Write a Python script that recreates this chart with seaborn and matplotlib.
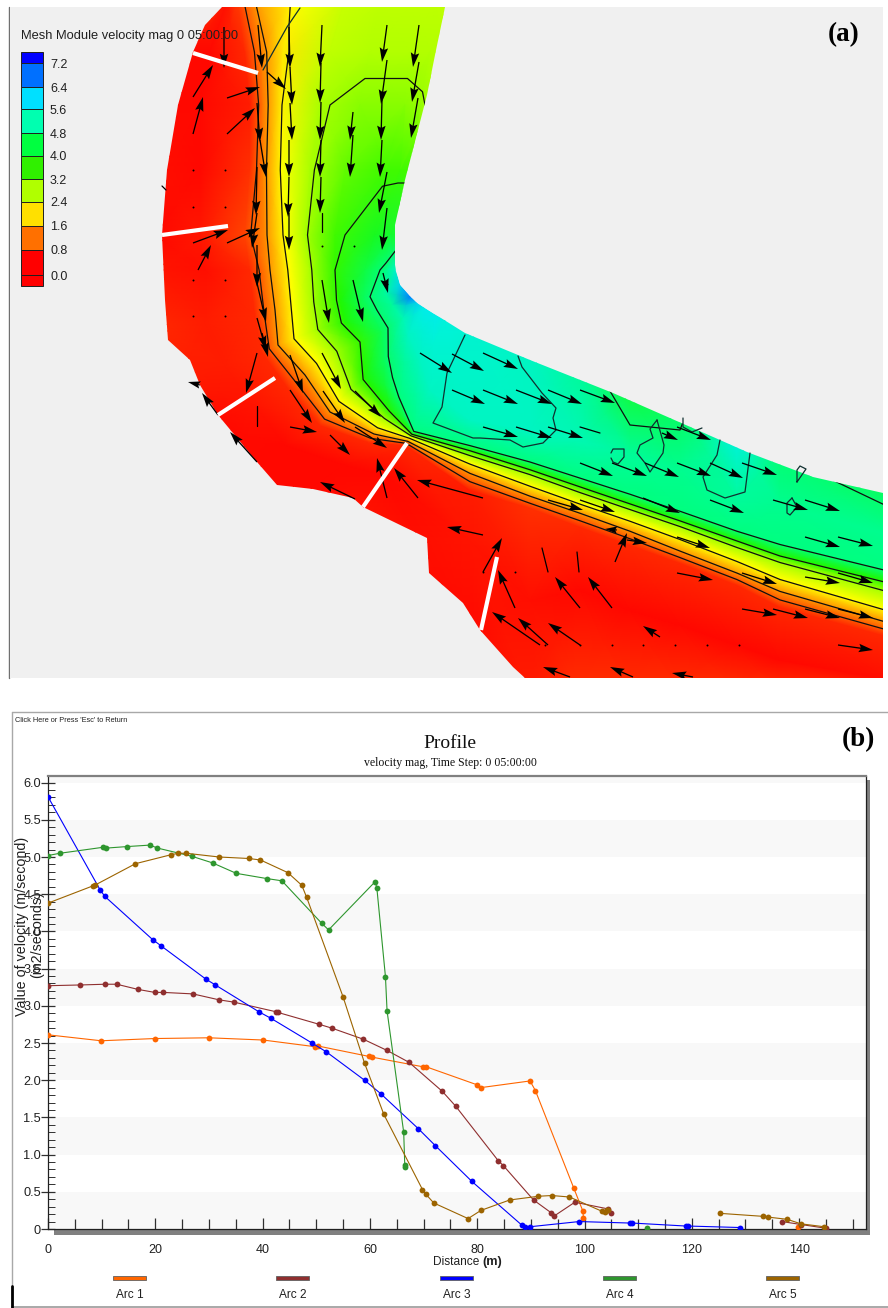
import numpy as np
import pandas as pd
import matplotlib
matplotlib.use('Agg')
import matplotlib.pyplot as plt
import seaborn as sns
from matplotlib.colors import LinearSegmentedColormap
from matplotlib.patches import Polygon, Rectangle

W, H = 888, 1308

# ---- panel (a) data in pixels ----
# each row is one cross section of the channel, outer bank to inner bank
sec_x = [
    [215, 228, 238, 255, 295, 345, 380, 415, 435, 450],
    [188, 210, 245, 262, 283, 330, 370, 410, 430, 440],
    [172, 200, 250, 263, 282, 320, 360, 405, 420, 430],
    [160, 200, 250, 263, 282, 310, 345, 385, 400, 410],
    [155, 200, 245, 265, 285, 305, 335, 375, 390, 398],
    [156, 205, 250, 270, 290, 310, 335, 365, 385, 395],
    [158, 205, 255, 275, 293, 312, 340, 365, 385, 400],
    [183, 225, 262, 278, 296, 316, 345, 372, 392, 410],
    [210, 255, 288, 305, 318, 335, 360, 382, 403, 417],
    [240, 285, 320, 330, 340, 350, 365, 385, 408, 424],
    [295, 345, 368, 374, 378, 384, 390, 400, 420, 435],
    [358, 385, 405, 408, 410, 411, 412, 414, 430, 445],
    [470, 470, 470, 470, 470, 470, 470, 470, 470, 470],
    [530, 530, 530, 530, 530, 530, 530, 530, 530, 530],
    [580, 580, 580, 580, 580, 580, 580, 580, 580, 580],
    [630, 630, 630, 630, 630, 630, 630, 630, 630, 630],
    [680, 680, 680, 680, 680, 680, 680, 680, 680, 680],
    [737, 737, 737, 737, 737, 737, 737, 737, 737, 737],
    [780, 780, 780, 780, 780, 780, 780, 780, 780, 780],
    [890, 890, 890, 890, 890, 890, 890, 890, 890, 890],
]
sec_y = [
    [0, 0, 0, 0, 0, 0, 0, 0, 0, 0],
    [52, 52, 52, 52, 52, 52, 52, 52, 52, 52],
    [105, 105, 105, 105, 105, 105, 105, 105, 105, 105],
    [170, 170, 170, 170, 170, 170, 170, 170, 170, 170],
    [235, 235, 235, 235, 235, 235, 235, 235, 235, 235],
    [270, 270, 270, 270, 270, 270, 270, 270, 270, 270],
    [325, 322, 315, 310, 305, 302, 300, 298, 293, 285],
    [375, 365, 352, 345, 338, 330, 322, 312, 305, 297],
    [425, 405, 388, 375, 362, 352, 342, 332, 318, 303],
    [465, 445, 425, 412, 400, 390, 378, 360, 335, 308],
    [500, 465, 442, 434, 427, 419, 410, 395, 360, 315],
    [515, 475, 445, 441, 438, 436, 434, 431, 390, 320],
    [640, 540, 490, 472, 463, 456, 450, 445, 420, 330],
    [690, 600, 508, 495, 485, 475, 469, 461, 430, 350],
    [690, 590, 527, 512, 503, 493, 486, 477, 440, 370],
    [690, 610, 545, 530, 520, 510, 503, 493, 455, 395],
    [690, 625, 563, 550, 538, 527, 520, 510, 470, 410],
    [690, 645, 585, 572, 560, 548, 540, 530, 500, 440],
    [690, 660, 607, 590, 578, 563, 555, 543, 505, 455],
    [690, 680, 637, 622, 610, 593, 582, 570, 535, 480],
]
sec_vel = [
    [.5, .2, .6, 1.5, 2.4, 2.9, 3.0, 3.0, 3.0, 3.0],
    [.1, .1, .4, 1.3, 2.2, 3.0, 3.1, 3.1, 3.1, 3.1],
    [.1, .1, .3, 1.2, 2.3, 3.2, 3.4, 3.4, 3.3, 3.2],
    [.15, .1, .5, 1.3, 2.4, 3.2, 3.6, 3.8, 3.8, 3.8],
    [.1, .25, .7, 1.4, 2.4, 3.2, 3.8, 4.2, 4.3, 4.3],
    [.2, .15, .4, 1.5, 2.4, 3.2, 3.9, 4.4, 4.8, 5.3],
    [.4, .3, .4, 1.5, 2.4, 3.2, 4.0, 4.6, 5.0, 5.8],
    [.3, .3, .4, 1.5, 2.4, 3.2, 4.0, 4.6, 5.0, 6.4],
    [.1, .2, .4, 1.5, 2.4, 3.2, 3.9, 4.5, 5.2, 5.8],
    [.1, .1, .4, 1.5, 2.4, 3.2, 4.0, 4.6, 5.3, 5.6],
    [.1, .1, .4, 1.5, 2.4, 3.2, 4.0, 4.8, 5.3, 5.6],
    [.2, .1, .4, 1.6, 2.4, 3.2, 4.0, 4.8, 5.3, 5.5],
    [.1, .2, .3, 1.6, 2.4, 3.2, 4.0, 4.8, 5.3, 5.4],
    [.3, .15, .5, 1.6, 2.4, 3.2, 4.0, 4.8, 5.3, 5.3],
    [.5, .1, .4, 1.6, 2.4, 3.2, 4.0, 4.8, 5.2, 5.0],
    [.5, .1, .4, 1.6, 2.4, 3.2, 4.0, 4.8, 5.0, 4.4],
    [.5, .1, .4, 1.6, 2.4, 3.2, 4.0, 4.8, 4.9, 4.6],
    [.5, .1, .4, 1.6, 2.4, 3.2, 4.0, 4.8, 5.0, 5.5],
    [.5, .1, .4, 1.6, 2.4, 3.2, 4.0, 4.8, 4.9, 4.7],
    [.5, .15, .4, 1.6, 2.4, 3.2, 4.0, 4.8, 4.9, 4.5],
]
# channel outline
bank_x = [222, 205, 193, 178, 167, 162, 165, 168, 190, 200, 218, 257, 277, 313, 353, 363,
          427, 429, 463, 480, 513, 525, 883, 883, 813, 747, 720, 613, 530, 465, 417, 400,
          395, 395, 405, 427, 435, 445]
bank_y = [7, 25, 52, 105, 170, 235, 300, 340, 360, 385, 415, 462, 485, 489, 498, 507,
          538, 573, 603, 630, 667, 678, 678, 493, 477, 452, 440, 393, 360, 333, 303, 285,
          265, 225, 180, 95, 55, 7]

# closed and open contour pieces in the fast water
loop_xs = [[611, 613, 624, 624, 618, 613, 611],
           [657, 650, 653, 640, 637, 645, 650, 663, 664, 657],
           [720, 717, 703, 707, 725, 745, 750],
           [518, 522, 542, 556, 553, 556, 543, 523, 510, 480, 473, 433, 442, 447, 465],
           [797, 797, 800, 806, 797],
           [792, 787, 787, 790, 797, 792],
           [683, 683, 692, 702],
           [300, 287, 263]]
loop_ys = [[453, 449, 449, 457, 464, 462, 458],
           [420, 429, 438, 445, 453, 463, 472, 453, 445, 420],
           [440, 455, 477, 490, 498, 492, 453],
           [356, 367, 393, 408, 418, 430, 443, 447, 440, 438, 438, 423, 407, 373, 335],
           [482, 470, 466, 469, 482],
           [498, 503, 513, 515, 507, 498],
           [418, 427, 432, 428],
           [8, 27, 70]]

# flow arrows, tail and tip
arrow_x0 = [193, 224, 258, 289, 322, 387, 419, 193, 227, 267, 290, 321, 387, 419, 227, 257, 290, 321, 353, 382, 418,
            260, 289, 321, 353, 382, 257, 289, 321, 387, 193, 227, 257, 289, 198, 387, 257, 322, 353, 257, 383, 257,
            262, 257, 322, 290, 355, 290, 323, 355, 290, 330, 218, 257, 355, 387, 418, 483, 483, 483, 515, 540,
            420, 452, 483, 452, 483, 516, 548, 580, 483, 516, 548, 662, 677, 580, 612, 645, 677, 710, 742,
            548, 580, 643, 710, 773, 805, 617, 677, 627, 615, 805, 838, 677, 742, 838, 805, 742, 773, 805, 838, 838,
            580, 612, 548, 580, 660, 570, 633, 693, 200]
arrow_y0 = [97, 27, 25, 27, 25, 25, 25, 134, 98, 72, 67, 63, 60, 62, 134, 103, 103, 102, 112, 100, 98,
            140, 140, 140, 135, 140, 167, 177, 177, 172, 243, 243, 213, 213, 270, 208, 245, 280, 280, 318, 273, 283,
            333, 353, 353, 355, 391, 390, 391, 427, 427, 435, 415, 462, 499, 498, 498, 498, 535, 572, 608, 645,
            353, 354, 353, 390, 390, 390, 390, 390, 427, 427, 427, 433, 427, 463, 463, 463, 463, 463, 463,
            500, 500, 498, 500, 500, 500, 530, 537, 540, 562, 537, 537, 573, 573, 573, 577, 609, 609, 609, 609, 645,
            608, 608, 645, 645, 637, 677, 677, 677, 385]
arrow_x1 = [213, 224, 262, 290, 320, 382, 413, 203, 260, 286, 292, 320, 381, 412, 255, 260, 292, 320, 350, 381, 411,
            266, 289, 320, 350, 380, 256, 288, 320, 379, 228, 260, 252, 289, 211, 382, 257, 329, 363, 266, 388, 266,
            268, 246, 341, 303, 381, 312, 345, 387, 317, 350, 202, 230, 320, 377, 394, 417, 447, 502, 498, 492,
            452, 484, 518, 485, 518, 552, 582, 615, 518, 552, 583, 678, 711, 613, 647, 679, 711, 743, 777,
            583, 615, 680, 744, 808, 840, 605, 710, 647, 627, 840, 873, 713, 777, 873, 840, 777, 808, 840, 873, 873,
            555, 588, 518, 548, 643, 543, 610, 672, 188]
arrow_y1 = [65, 68, 68, 68, 67, 62, 67, 97, 87, 89, 105, 103, 104, 102, 108, 142, 140, 140, 140, 140, 138,
            177, 177, 177, 177, 177, 215, 217, 213, 213, 230, 228, 248, 250, 245, 250, 287, 323, 322, 350, 293, 322,
            357, 393, 389, 393, 417, 423, 423, 448, 432, 455, 393, 432, 482, 458, 468, 480, 527, 538, 570, 612,
            373, 371, 369, 404, 404, 404, 404, 403, 437, 438, 438, 440, 440, 476, 476, 477, 476, 478, 475,
            510, 512, 513, 513, 510, 511, 529, 548, 543, 533, 547, 546, 580, 584, 583, 583, 615, 618, 618, 618, 650,
            577, 577, 618, 623, 626, 667, 667, 673, 382]

# short bars with no head
stub_x0 = [322, 542, 577, 257, 580, 162]
stub_y0 = [213, 548, 552, 406, 427, 186]
stub_x1 = [322, 548, 579, 257, 600, 166]
stub_y1 = [232, 572, 572, 426, 433, 190]

# tiny marks where the velocity is almost nil
dot_x = [193, 225, 193, 225, 193, 225, 193, 225, 322, 354, 387, 545, 580, 612, 643, 675, 707, 739, 483, 515]
dot_y = [170, 170, 207, 207, 280, 280, 316, 316, 246, 246, 284, 645, 645, 645, 645, 645, 645, 645, 572, 572]

# white profile arcs
arc_x0 = [193, 162, 218, 363, 481]
arc_y0 = [53, 235, 415, 507, 630]
arc_x1 = [258, 228, 275, 407, 497]
arc_y1 = [73, 226, 378, 443, 557]

# colour bar
bar_labels = ['7.2', '6.4', '5.6', '4.8', '4.0', '3.2', '2.4', '1.6', '0.8', '0.0']
bar_colors = ['#0000ff', '#0070ff', '#00e0ff', '#00ffb0', '#00ff40', '#30f000', '#b0ff00',
              '#ffe000', '#ff7000', '#ff0000', '#ff0000']
bar_edges = [52, 63, 87, 109, 133, 156, 179, 202, 226, 250, 275, 286]

# ---- panel (b) data ----
arc1_x = [0, 9.9, 19.9, 30, 40.1, 49.8, 50.3, 59.8, 60.4, 69.9, 70.5, 79.9, 80.65, 89.85, 90.85, 98, 99.7, 99.8]
arc1_y = [2.61, 2.53, 2.56, 2.57, 2.54, 2.45, 2.46, 2.32, 2.31, 2.18, 2.18, 1.94, 1.9, 1.99, 1.86, .55, .24, .15]
arc1b_x = [139.8]
arc1b_y = [.03]

arc2_x = [0, 6, 10.7, 12.8, 16.8, 19.9, 21.5, 27, 31.9, 34.6, 42.5, 42.9, 50.6, 52.9, 58.8, 63.2, 67.3, 73.5, 76,
          83.9, 84.9, 90.5, 93.75, 94.25, 98.2, 104.4, 104.9]
arc2_y = [3.27, 3.28, 3.29, 3.29, 3.22, 3.18, 3.18, 3.16, 3.08, 3.05, 2.92, 2.91, 2.75, 2.7, 2.55, 2.4, 2.24, 1.85,
          1.65, .92, .85, .39, .22, .17, .36, .27, .22]
arc2b_x = [136.8, 140.4, 145]
arc2b_y = [.1, .06, .01]

arc3_x = [0, 9.7, 10.6, 19.5, 21, 29.4, 31.2, 39.3, 41.6, 49.2, 51.9, 59, 62, 69, 72.2, 79, 88.35, 88.85, 89.8, 99,
          108.5, 108.9, 118.85, 119.2, 128.9]
arc3_y = [5.81, 4.56, 4.47, 3.89, 3.81, 3.36, 3.28, 2.92, 2.83, 2.5, 2.38, 2.0, 1.82, 1.35, 1.12, .64, .05, .03, .03,
          .1, .08, .08, .04, .04, .02]

arc4_x = [0, 2.2, 10.2, 10.9, 14.7, 19, 20.4, 26.8, 30.7, 35.1, 40.8, 43.6, 51, 52.3, 61, 61.3, 62.9, 63.2, 66.3,
          66.5, 66.5]
arc4_y = [5.02, 5.05, 5.13, 5.12, 5.14, 5.16, 5.12, 5.01, 4.92, 4.78, 4.71, 4.68, 4.11, 4.02, 4.67, 4.58, 3.39, 2.93,
          1.3, .86, .84]
arc4b_x = [111.6]
arc4b_y = [.01]

arc5_x = [0, 8.3, 8.7, 16.3, 22.9, 24.3, 25.8, 31.9, 37.4, 39.6, 44.7, 47.3, 48.2, 55, 59, 62.6, 69.8, 70.4, 71.9,
          78.3, 80.7, 86.05, 91.4, 93.9, 97.2, 103.2, 103.9, 104.25, 104.4]
arc5_y = [4.38, 4.61, 4.62, 4.91, 5.03, 5.05, 5.05, 5.0, 4.98, 4.96, 4.79, 4.62, 4.46, 3.12, 2.23, 1.54, .53, .47, .35,
          .14, .25, .39, .44, .45, .43, .24, .23, .25, .26]
arc5b_x = [125.3, 133.3, 134.2, 137.8, 140.3, 144.7]
arc5b_y = [.21, .17, .16, .13, .07, .03]

arc_names = ['Arc 1', 'Arc 2', 'Arc 3', 'Arc 4', 'Arc 5']
arc_colors = ['#ff6600', '#8f2f2f', '#0000ff', '#2e962e', '#9c6400']
band_low = [0, 1, 2, 3, 4, 5, 6]

y_ticks = [0, .5, 1, 1.5, 2, 2.5, 3, 3.5, 4, 4.5, 5, 5.5, 6]
y_tick_labels = ['0', '0.5', '1.0', '1.5', '2.0', '2.5', '3.0', '3.5', '4.0', '4.5', '5.0', '5.5', '6.0']
x_ticks = [0, 20, 40, 60, 80, 100, 120, 140]

sns.set_theme(style='white')
plt.rcParams['font.family'] = ['Liberation Sans', 'DejaVu Sans']
SERIF = ['Liberation Serif', 'DejaVu Serif']


def axes_px(fig, x0, y0, x1, y1, **kw):
    return fig.add_axes([x0 / W, 1 - y1 / H, (x1 - x0) / W, (y1 - y0) / H], **kw)


fig = plt.figure(figsize=(W / 100, H / 100), dpi=100, facecolor='white')

# page level stuff in pixel coordinates
page = axes_px(fig, 0, 0, W, H, zorder=0)
page.set_xlim(0, W)
page.set_ylim(H, 0)
page.axis('off')

# ---- (a) ----
ax = axes_px(fig, 10, 7, 883, 678, zorder=1)
ax.set_facecolor('#f0f0f0')
ax.set_xlim(10, 883)
ax.set_ylim(678, 7)
ax.set_xticks([])
ax.set_yticks([])
for s in ax.spines.values():
    s.set_visible(False)

vel_cmap = LinearSegmentedColormap.from_list('vel', [
    (0, '#ff0000'), (0.8 / 7.2, '#ff5000'), (1.6 / 7.2, '#ffa000'), (2.4 / 7.2, '#ffff00'), (3.2 / 7.2, '#a8ff00'),
    (4.0 / 7.2, '#20f800'), (4.8 / 7.2, '#00ff80'), (5.6 / 7.2, '#00f0e8'), (6.4 / 7.2, '#0080ff'), (1, '#0000ff')])

X = np.array(sec_x, dtype=float)
Y = np.array(sec_y, dtype=float)
V = np.array(sec_vel, dtype=float)
outline = Polygon(np.column_stack([bank_x, bank_y]), closed=True, transform=ax.transData, fc='none', ec='none')
ax.add_patch(outline)
mesh = ax.pcolormesh(X, Y, V, shading='gouraud', cmap=vel_cmap, vmin=0, vmax=7.2)
mesh.set_clip_path(outline)
cs = ax.contour(X, Y, V, levels=[0.9, 1.5, 2.3, 3.25, 3.9, 4.7], colors='#101010', linewidths=0.9)
cs.set_clip_path(outline)
for i in range(len(loop_xs)):
    ax.plot(loop_xs[i], loop_ys[i], color='#103030', lw=0.9, zorder=3)

ax.quiver(arrow_x0, arrow_y0, np.subtract(arrow_x1, arrow_x0), np.subtract(arrow_y1, arrow_y0),
          angles='xy', scale_units='xy', scale=1, units='dots', width=1.3,
          headwidth=6.5, headlength=11, headaxislength=9.5, color='black', zorder=4)
for i in range(len(stub_x0)):
    ax.plot([stub_x0[i], stub_x1[i]], [stub_y0[i], stub_y1[i]], color='black', lw=0.9, zorder=4)
ax.scatter(dot_x, dot_y, s=2, color='black', linewidths=0, zorder=4)
for i in range(len(arc_x0)):
    ax.plot([arc_x0[i], arc_x1[i]], [arc_y0[i], arc_y1[i]], color='white', lw=3, zorder=5, solid_capstyle='butt')

for i in range(len(bar_colors)):
    ax.add_patch(Rectangle((21, bar_edges[i]), 22, bar_edges[i + 1] - bar_edges[i], fc=bar_colors[i],
                           ec='#202020', lw=0.7, zorder=6))
for i, lab in enumerate(bar_labels):
    ax.text(50, bar_edges[i + 1] + 1.5, lab, fontsize=9, va='center', ha='left', color='#202020', zorder=6)
ax.text(21, 36, 'Mesh Module velocity mag 0 05:00:00', fontsize=9.3, va='center', ha='left',
        color='#202020', zorder=6)
ax.text(844, 35, '(a)', family=SERIF, fontsize=19.5, fontweight='bold', ha='center', va='center', color='black',
        zorder=6)

page.plot([9, 9], [7, 678], color='#707070', lw=1)

# ---- (b) ----
page.plot([12, 888], [712, 712], color='#a8a8a8', lw=1)
page.plot([12, 12], [712, 1307], color='#a8a8a8', lw=1)
page.plot([12, 888], [1307, 1307], color='#a8a8a8', lw=1.4)
page.plot([12, 12], [1286, 1308], color='black', lw=2)
page.add_patch(Rectangle((54, 1229), 816, 6, fc='#808080', ec='none'))
page.add_patch(Rectangle((866, 780), 4, 455, fc='#808080', ec='none'))

rows = []
seg = 0
for name, parts in zip(arc_names, [[(arc1_x, arc1_y), (arc1b_x, arc1b_y)], [(arc2_x, arc2_y), (arc2b_x, arc2b_y)],
                                   [(arc3_x, arc3_y)], [(arc4_x, arc4_y), (arc4b_x, arc4b_y)],
                                   [(arc5_x, arc5_y), (arc5b_x, arc5b_y)]]):
    for px, py in parts:
        rows.append(pd.DataFrame({'dist': px, 'vel': py, 'arc': name, 'seg': seg}))
        seg += 1
df = pd.concat(rows, ignore_index=True)

ax2 = axes_px(fig, 48, 776, 866, 1229, zorder=2)
ax2.set_facecolor('white')
ax2.set_xlim(0, (866 - 48) / 5.365)
ax2.set_ylim(0, (1229 - 776) / 74.4)
for b in band_low:
    ax2.axhspan(b, b + 0.5, color='#f8f8f8', lw=0, zorder=0)
sns.lineplot(data=df, x='dist', y='vel', hue='arc', units='seg', estimator=None, sort=False,
             palette=dict(zip(arc_names, arc_colors)), marker='o', markersize=4.2, markeredgewidth=0,
             linewidth=0.8, legend=False, ax=ax2, zorder=3)
ax2.set_xlabel('')
ax2.set_ylabel('')
ax2.set_xticks(x_ticks)
ax2.set_xticks(np.arange(0, 155, 5), minor=True)
ax2.set_yticks(y_ticks)
ax2.set_yticklabels(y_tick_labels)
ax2.set_yticks(np.arange(0, 6.05, 0.1), minor=True)
ax2.tick_params(axis='x', which='major', direction='in', length=8, width=0.9, color='#303030', bottom=True,
                labelsize=9, pad=11, labelcolor='#202020')
ax2.tick_params(axis='x', which='minor', direction='in', length=7, width=0.9, color='#303030', bottom=True)
ax2.tick_params(axis='y', which='major', direction='inout', length=10, width=0.9, color='#303030', left=True,
                labelsize=9.2, pad=0, labelcolor='#202020')
ax2.tick_params(axis='y', which='minor', direction='in', length=5, width=0.7, color='#303030', left=True)
for side in ['left', 'bottom', 'right']:
    ax2.spines[side].set_color('#202020')
    ax2.spines[side].set_linewidth(0.9)
ax2.spines['top'].set_color('#808080')
ax2.spines['top'].set_linewidth(1.6)

# text over the panel
over = axes_px(fig, 0, 0, W, H, zorder=3)
over.set_xlim(0, W)
over.set_ylim(H, 0)
over.axis('off')
over.patch.set_alpha(0)
over.text(15, 721, "Click Here or Press 'Esc' to Return", fontsize=5.3, va='center', ha='left', color='#202020')
over.text(450, 743, 'Profile', family=SERIF, fontsize=14, ha='center', va='center', color='#101010')
over.text(450, 763, 'velocity mag, Time Step: 0 05:00:00', family=SERIF, fontsize=8.5, ha='center', va='center',
          color='#101010')
over.text(858, 740, '(b)', family=SERIF, fontsize=19.5, fontweight='bold', ha='center', va='center', color='black')
over.text(22, 926, 'Value of velocity (m/second)', fontsize=10.3, rotation=90, ha='center', va='center', color='#202020')
over.text(37, 935, '(m2/seconds)', fontsize=10.3, rotation=90, ha='center', va='center', color='#202020')
over.text(456, 1262, 'Distance', fontsize=8.6, ha='center', va='center', color='#202020')
over.text(492, 1262, '(m)', fontsize=9.2, fontweight='bold', ha='center', va='center', color='#202020')
swatch_left = [113, 276, 440, 603, 766]
for i, name in enumerate(arc_names):
    over.add_patch(Rectangle((swatch_left[i], 1276), 33, 4, fc=arc_colors[i], ec='#606060', lw=0.6))
    over.text(swatch_left[i] + 16.5, 1295, name, fontsize=8.6, ha='center', va='center', color='#202020')

fig.savefig('out.png', dpi=100)
